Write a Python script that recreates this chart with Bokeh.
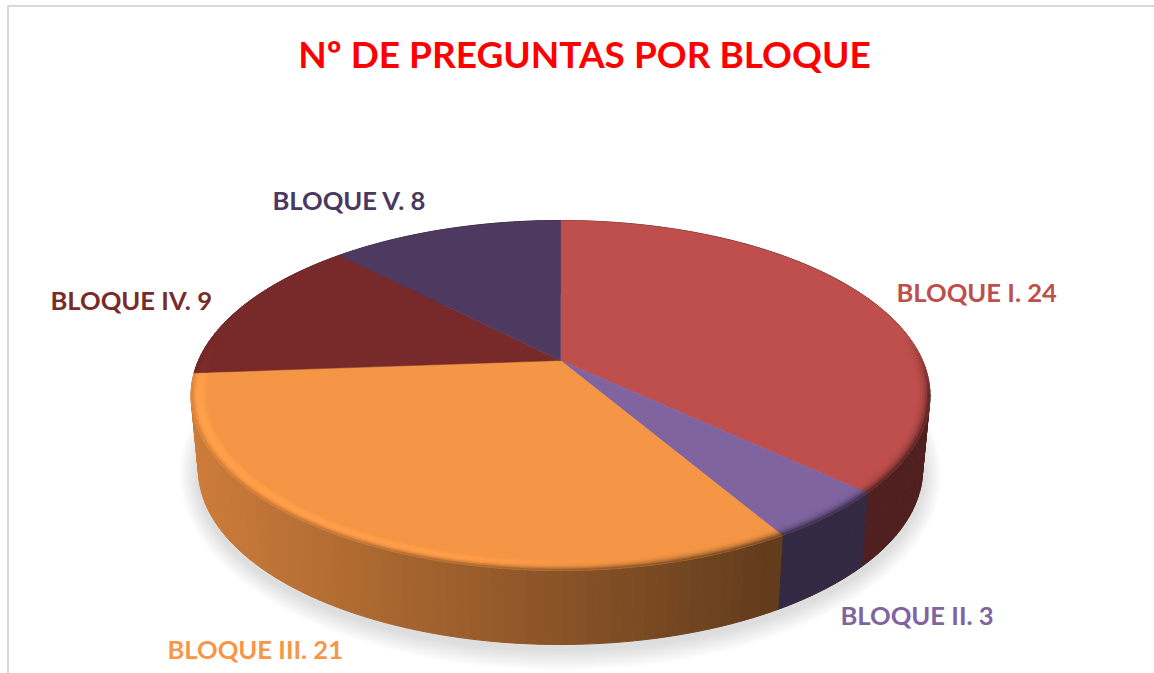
import numpy as np
from bokeh.plotting import figure
from bokeh.models import Range1d
from bokeh.core.properties import value
from bokeh.embed import file_html
from bokeh.resources import INLINE

title_text = "Nº DE PREGUNTAS POR BLOQUE"
categories = ["BLOQUE I", "BLOQUE II", "BLOQUE III", "BLOQUE IV", "BLOQUE V"]
counts = [24, 3, 21, 9, 8]

face_colors = ["#BE4F4C", "#8064A0", "#F49645", "#772A29", "#4E3A60"]
base_colors = ["#C6504D", "#8166A4", "#F79646", "#7A2C2A", "#4F3B62"]
label_colors = ["#BD4F4C", "#8064A2", "#F79646", "#772C2A", "#4B3860"]
label_left = [896, 840, 167, 50, 272]
label_mid = [291.5, 614.5, 648.5, 299.5, 199.5]

W, H = 1154, 673
CX, CY = 560.0, 360.0
SX, A, C = 362.0, 96.0, -0.2
DEPTH, SHRINK = 74.0, 0.98


def project(theta, r=1.0):
    u, v = r * np.sin(theta), -r * np.cos(theta)
    d = 1 + C * v
    return CX + SX * u / d, (CY + A * v) / d


def lower(x, y):
    return CX + SHRINK * (x - CX), y + DEPTH


def rgb(h):
    return np.array([int(h[i:i + 2], 16) for i in (1, 3, 5)], float)


def hexc(c):
    c = np.clip(np.round(c), 0, 255).astype(int)
    return "#%02x%02x%02x" % tuple(c)


def bright(x):
    return float(np.clip(0.83 - 0.43 * (x - 190) / 580, 0.40, 0.83))


p = figure(width=W, height=H, x_range=Range1d(0, W), y_range=Range1d(H, 0),
           toolbar_location=None, output_backend="svg", min_border=0,
           x_axis_type=None, y_axis_type=None, outline_line_color=None)
p.grid.visible = False
p.background_fill_color = "white"
p.border_fill_color = "white"

# frame of the slide
p.line([7.5, 7.5, W], [H, 5.5, 5.5], line_color="#D9D9D9", line_width=2)

# soft shadow below the disc
t_all = np.linspace(0, 2 * np.pi, 181)
bx, by = lower(*project(t_all))
YM = 395 + DEPTH
for k in range(11):
    gx = 1 + (11 - k) * 1.7 / 362
    gy = 1 + (11 - k) * 1.9 / 178
    sx = CX + (bx - CX) * gx
    sy = (YM + 5) + (by - YM) * gy
    p.patch(sx, sy, fill_color="#808080", fill_alpha=0.028, line_color=None)

edges = np.cumsum([0] + counts) / sum(counts) * 2 * np.pi
STEP = np.deg2rad(1.5)

# side wall, painted from the back of the disc to the front
quads = []
for i in range(len(counts)):
    n = max(2, int((edges[i + 1] - edges[i]) / STEP))
    ts = np.linspace(edges[i], edges[i + 1], n + 1)
    for a, b in zip(ts[:-1], ts[1:]):
        x1, y1 = project(a)
        x2, y2 = project(b)
        x3, y3 = lower(x2, y2)
        x4, y4 = lower(x1, y1)
        col = hexc(rgb(base_colors[i]) * bright((x1 + x2) / 2))
        quads.append((-np.cos((a + b) / 2), [x1, x2, x3, x4], [y1, y2, y3, y4], col))
quads.sort(key=lambda q: q[0])
p.patches([q[1] for q in quads], [q[2] for q in quads],
          fill_color=[q[3] for q in quads], line_color=[q[3] for q in quads], line_width=1)

# top faces
for i in range(len(counts)):
    ts = np.linspace(edges[i], edges[i + 1], 120)
    x, y = project(ts)
    p.patch([CX, *x], [CY, *y], fill_color=face_colors[i], line_color=face_colors[i], line_width=0.5)

# bevel band around the rim
levels = np.linspace(0.958, 1.0, 8)
bxs, bys, bcs = [], [], []
for i in range(len(counts)):
    n = max(2, int((edges[i + 1] - edges[i]) / STEP))
    ts = np.linspace(edges[i], edges[i + 1], n + 1)
    for a, b in zip(ts[:-1], ts[1:]):
        m = (a + b) / 2
        xm, _ = project(m)
        vm = -np.cos(m)
        w = float(np.clip((vm + 0.15) / 0.35, 0, 1))
        if w <= 0:
            continue
        top = rgb(face_colors[i])
        side = rgb(base_colors[i]) * bright(xm)
        glow = float(np.clip((680 - xm) / 240, 0, 1))
        for r1, r2 in zip(levels[:-1], levels[1:]):
            s = ((r1 + r2) / 2 - levels[0]) / (levels[-1] - levels[0])
            c = top + (side - top) * s ** 3 * w
            c = c * (1 + 0.11 * glow * np.sin(np.pi * s ** 1.4) * w)
            x1, y1 = project(a, r1)
            x2, y2 = project(b, r1)
            x3, y3 = project(b, r2)
            x4, y4 = project(a, r2)
            bxs.append([x1, x2, x3, x4])
            bys.append([y1, y2, y3, y4])
            bcs.append(hexc(c))
p.patches(bxs, bys, fill_color=bcs, line_color=bcs, line_width=0.6)

# texts
FONT = "Lato"
p.text([584], [53], text=[title_text], text_color="#FF0000", text_font=value(FONT),
       text_font_style="bold", text_font_size="37px", text_align="center", text_baseline="middle")
labels = [f"{c}. {n}" for c, n in zip(categories, counts)]
p.text(label_left, label_mid, text=labels, text_color=label_colors, text_font=value(FONT),
       text_font_style="bold", text_font_size="25.6px", text_align="left", text_baseline="middle")

open("out.html", "w").write(file_html(p, INLINE))
